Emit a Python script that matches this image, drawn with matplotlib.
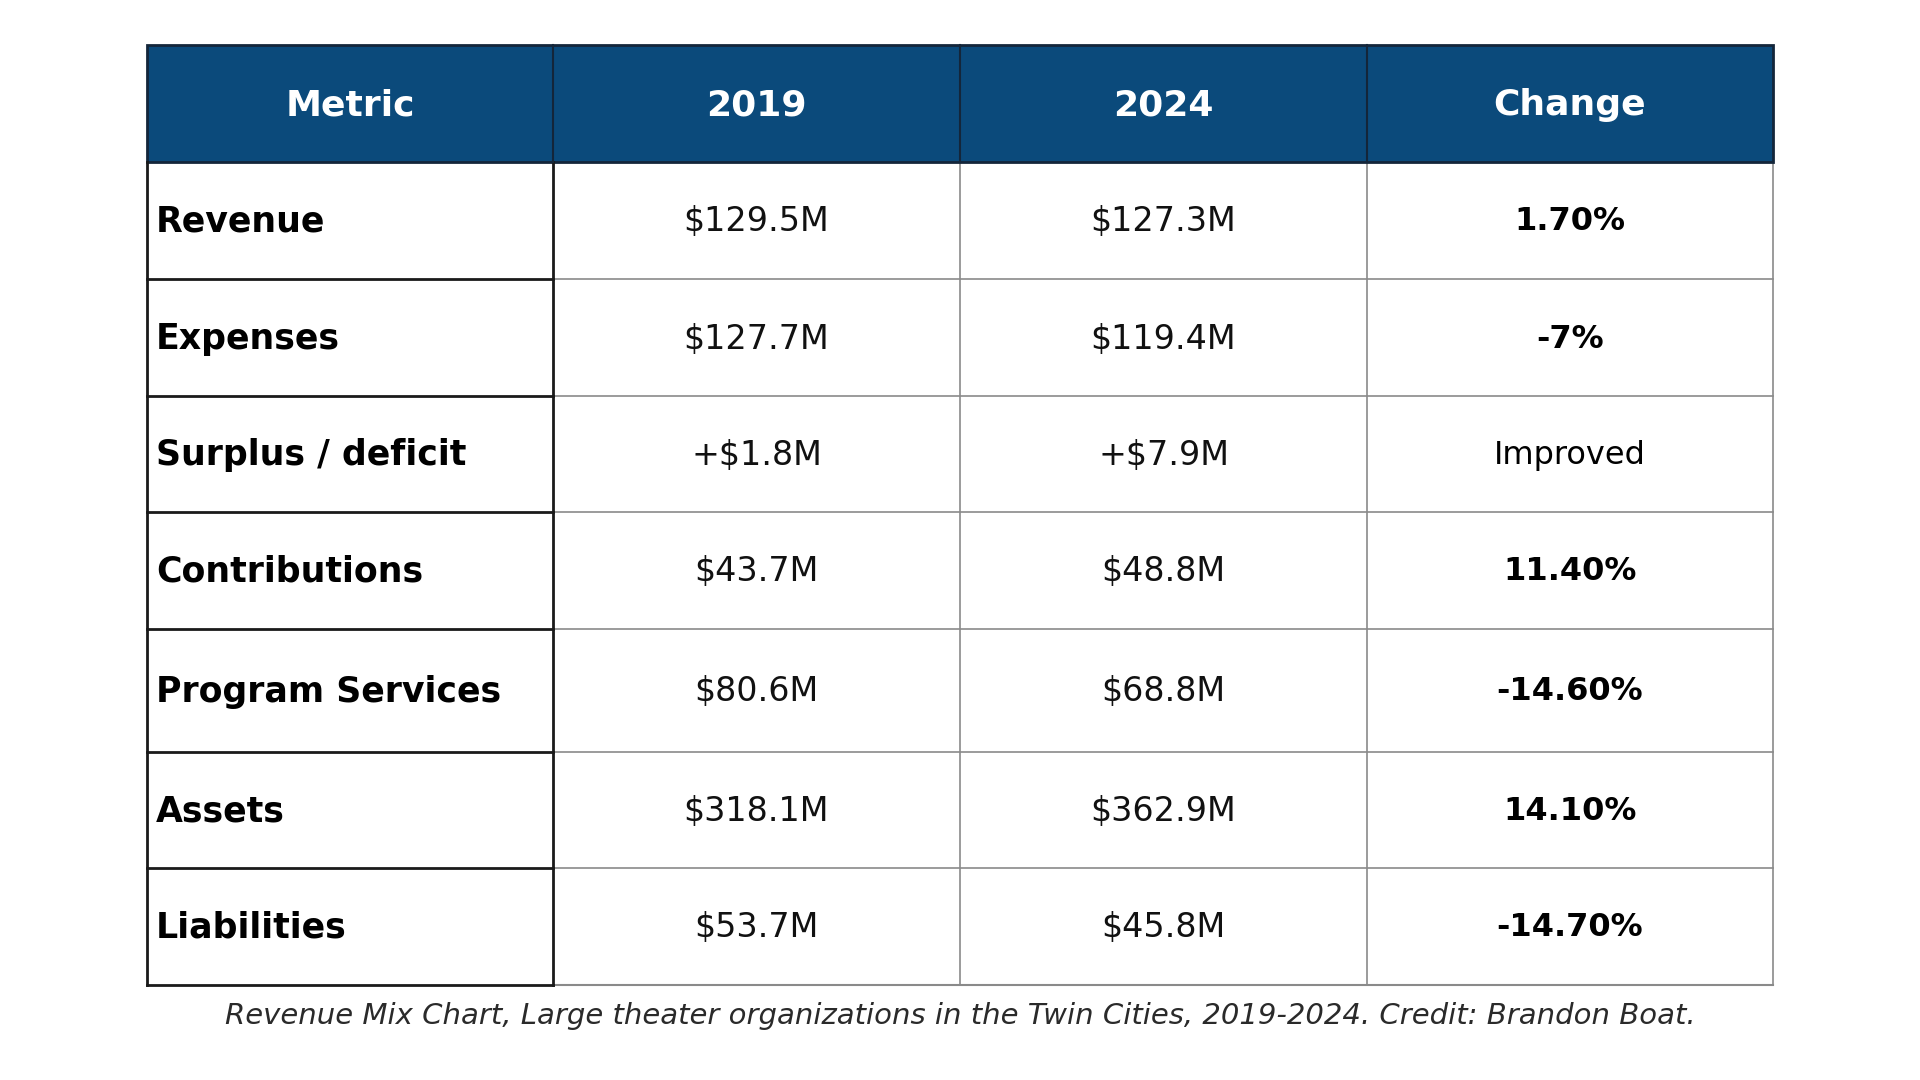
import matplotlib
matplotlib.use("Agg")
import matplotlib.pyplot as plt
from matplotlib.patches import Rectangle

# - table content
headers   = ["Metric", "2019", "2024", "Change"]
metrics   = ["Revenue", "Expenses", "Surplus / deficit", "Contributions",
             "Program Services", "Assets", "Liabilities"]
vals_2019 = ["$129.5M", "$127.7M", "+$1.8M", "$43.7M", "$80.6M", "$318.1M", "$53.7M"]
vals_2024 = ["$127.3M", "$119.4M", "+$7.9M", "$48.8M", "$68.8M", "$362.9M", "$45.8M"]
changes   = ["1.70%", "-7%", "Improved", "11.40%", "-14.60%", "14.10%", "-14.70%"]
caption   = "Revenue Mix Chart, Large theater organizations in the Twin Cities, 2019-2024. Credit: Brandon Boat."

FONT   = "DejaVu Sans"
NAVY   = "#0b4a7b"
GRID   = "#8a8a8a"

# - layout in pixel coordinates
col_x  = [147, 553, 960, 1367, 1773]
row_y  = [45, 162, 279, 396, 512, 629, 752, 868, 985]
dy     = 1.5

fig = plt.figure(figsize=(19.2, 10.8), dpi=100)
ax  = fig.add_axes([0, 0, 1, 1])
ax.set_xlim(0, 1920)
ax.set_ylim(1080, 0)
ax.axis("off")

# - header band
ax.add_patch(Rectangle((col_x[0], row_y[0]), col_x[-1] - col_x[0], row_y[1] - row_y[0],
                       facecolor=NAVY, edgecolor="#14263a", linewidth=2, zorder=2))
for x in col_x[1:-1]:
    ax.plot([x, x], [row_y[0], row_y[1]], color="#14263a", linewidth=1.5, zorder=3)

for i, h in enumerate(headers):
    cx = (col_x[i] + col_x[i + 1]) / 2
    cy = (row_y[0] + row_y[1]) / 2 + dy
    ax.text(cx, cy, h, color="white", fontsize=26, fontweight="bold", family=FONT,
            ha="center", va="center", zorder=4)

# - body grid, gray lines for the value columns
for y in row_y[2:-1]:
    ax.plot([col_x[1], col_x[-1]], [y, y], color=GRID, linewidth=1.2, zorder=1)
for x in col_x[2:]:
    ax.plot([x, x], [row_y[1], row_y[-1]], color=GRID, linewidth=1.2, zorder=1)
ax.plot([col_x[1], col_x[-1]], [row_y[-1], row_y[-1]], color=GRID, linewidth=1.5, zorder=1)

# - first column has black borders
for y in row_y[2:]:
    ax.plot([col_x[0], col_x[1]], [y, y], color="#1a1a1a", linewidth=2, zorder=2)
for x in col_x[:2]:
    ax.plot([x, x], [row_y[1], row_y[-1]], color="#1a1a1a", linewidth=2, zorder=2)

for r, name in enumerate(metrics):
    cy = (row_y[r + 1] + row_y[r + 2]) / 2 + dy
    ax.text(col_x[0] + 9, cy, name, fontsize=25, fontweight="bold", family=FONT,
            ha="left", va="center", color="black")
    for c, val in enumerate([vals_2019[r], vals_2024[r]]):
        cx = (col_x[c + 1] + col_x[c + 2]) / 2
        ax.text(cx, cy, val, fontsize=24, family=FONT, ha="center", va="center", color="#111111")
    cx = (col_x[3] + col_x[4]) / 2
    weight = "normal" if changes[r] == "Improved" else "bold"
    ax.text(cx, cy, changes[r], fontsize=23, fontweight=weight, family=FONT,
            ha="center", va="center", color="black")

ax.text(960, 1016, caption, fontsize=21, style="italic", family=FONT,
        ha="center", va="center", color="#2a2a2a")

fig.savefig("out.png", dpi=100, facecolor="white")
